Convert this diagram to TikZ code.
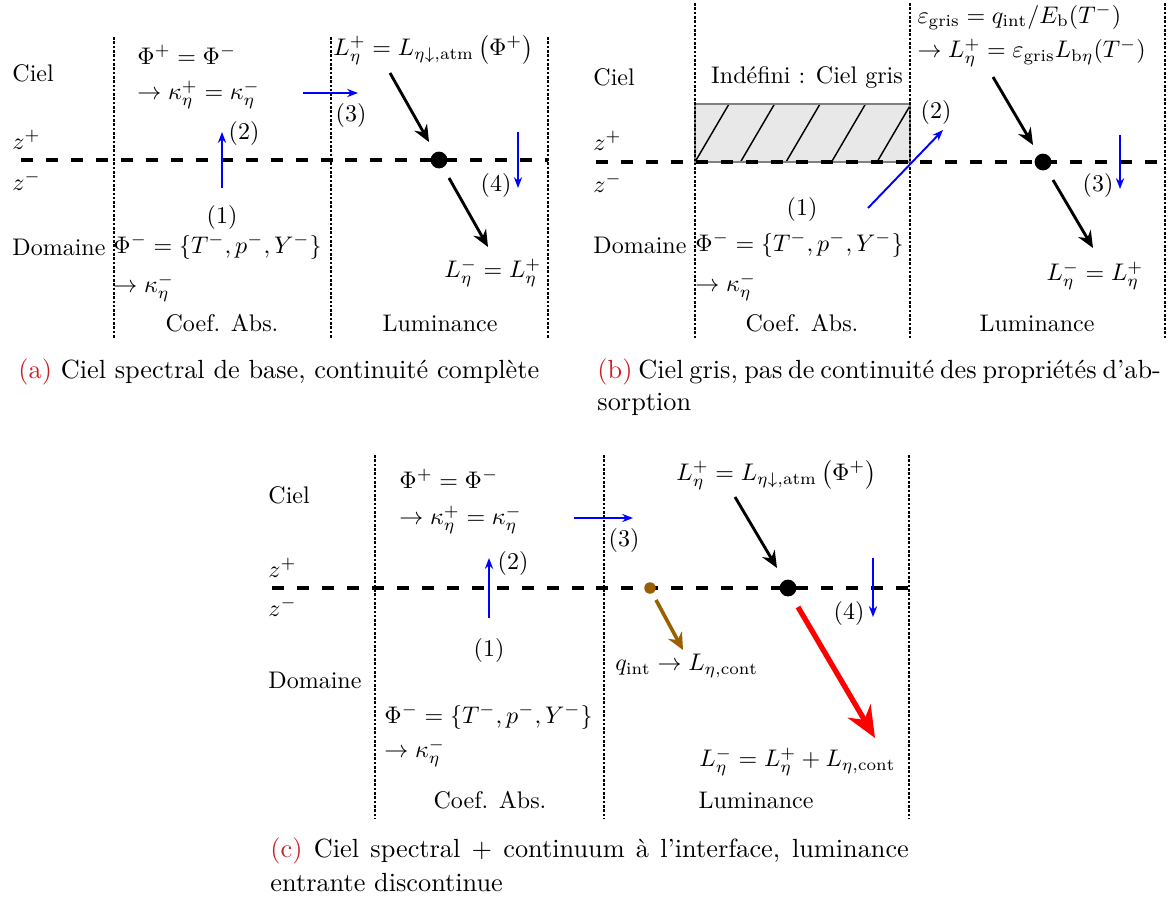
\documentclass[tikz,border=0pt]{standalone}
\usepackage{fontspec}
\usetikzlibrary{arrows.meta}
\definecolor{capred}{RGB}{204,32,40}
\definecolor{qbrown}{RGB}{153,95,0}
\tikzset{
  lbl/.style={inner sep=0pt, anchor=west},
  ctr/.style={inner sep=0pt},
  captxt/.style={inner sep=0pt, anchor=west, font=\fontsize{10.95}{13.6}\selectfont},
  vdiv/.style={line width=0.8pt, dash pattern=on 1.1pt off 0.7pt},
  iface/.style={line width=1.6pt, dash pattern=on 5pt off 5.4pt},
  blk/.style={line width=1.2pt, -{Stealth[length=7pt,width=6pt]}},
  blu/.style={blue, line width=0.8pt, -{Stealth[length=4.5pt,width=3.4pt]}},
  bigdot/.style={circle, fill=black, inner sep=0pt, minimum size=7pt},
  brdot/.style={circle, fill=qbrown, inner sep=0pt, minimum size=4.8pt},
}
\begin{document}
\begin{tikzpicture}[x=0.41667pt,y=-0.41667pt]
\useasboundingbox (0,0) rectangle (1168,899);

% ================= Panel (a) =================
\draw[vdiv] (114,37) -- (114,338);
\draw[vdiv] (331,37) -- (331,338);
\draw[vdiv] (548,37) -- (548,338);
\draw[iface] (21,160) -- (548,160);
\node[lbl] (aciel) at (12,73) {Ciel};
\node[lbl] (azp) at (12,140) {$z^+$};
\node[lbl] (azm) at (12,181) {$z^-$};
\node[lbl] (adom) at (12,247) {Domaine};
\node[lbl] (aphip) at (137,55) {$\Phi^+ = \Phi^-$};
\node[lbl] (akap) at (137,95) {$\rightarrow \kappa_\eta^+ = \kappa_\eta^-$};
\node[lbl] (aphim) at (113,247) {$\Phi^- = \{T^-, p^-, Y^-\}$};
\node[lbl] (akam) at (113,288) {$\rightarrow \kappa_\eta^-$};
\node[ctr] (acoef) at (222,323) {Coef. Abs.};
\node[ctr] (alum) at (440,323) {Luminance};
\node[lbl] (aLp) at (333,50) {$L_\eta^+ = L_{\eta\downarrow,\mathrm{atm}}\,\bigl(\Phi^+\bigr)$};
\node[lbl] (aLm) at (444,273) {$L_\eta^- = L_\eta^+$};
\node[ctr] (a1) at (222,217) {(1)};
\node[ctr] (a2) at (244,133) {(2)};
\node[ctr] (a3) at (351,115) {(3)};
\node[ctr] (a4) at (496,185) {(4)};
\node[bigdot] (adot) at (439,160) {};
\coordinate (a3s) at (303,93); \coordinate (a3e) at (358,93);
\coordinate (a2s) at (222,188); \coordinate (a2e) at (222,132);
\coordinate (a4s) at (518,132); \coordinate (a4e) at (518,188);
\coordinate (aks) at (390,73); \coordinate (ake) at (429,142);
\coordinate (als) at (449,178); \coordinate (ale) at (488,247);
\draw[blu] (a3s) -- (a3e);
\draw[blu] (a2s) -- (a2e);
\draw[blu] (a4s) -- (a4e);
\draw[blk] (aks) -- (ake);
\draw[blk] (als) -- (ale);
\node[captxt] (capa) at (18,372) {\textcolor{capred}{(a)} Ciel spectral de base, continuité complète};

% ================= Panel (b) =================
\fill[gray!18] (695,104) rectangle (910,162);
\begin{scope}
  \clip (695,104) rectangle (910,162);
  \foreach \k in {0,...,4} {
    \draw[line width=0.6pt] ({695+45.5*\k},162) -- ({729+45.5*\k},104);
  }
\end{scope}
\draw[gray, line width=0.6pt] (695,104) rectangle (910,162);
\draw[vdiv] (695,3) -- (695,338);
\draw[vdiv] (910,3) -- (910,338);
\draw[vdiv] (1165,3) -- (1165,338);
\draw[iface] (596,162) -- (1168,162);
\node[lbl] (bciel) at (593,77) {Ciel};
\node[lbl] (bzp) at (593,141) {$z^+$};
\node[lbl] (bzm) at (593,183) {$z^-$};
\node[lbl] (bdom) at (593,245) {Domaine};
\node[ctr] (bind) at (807,78) {Indéfini : Ciel gris};
\node[lbl] (bphim) at (695,245) {$\Phi^- = \{T^-, p^-, Y^-\}$};
\node[lbl] (bkam) at (695,287) {$\rightarrow \kappa_\eta^-$};
\node[ctr] (bcoef) at (802,323) {Coef. Abs.};
\node[ctr] (blum) at (1037,323) {Luminance};
\node[lbl] (beps) at (917,17) {$\varepsilon_{\mathrm{gris}} = q_{\mathrm{int}}/E_{\mathrm{b}}(T^-)$};
\node[lbl] (bLp) at (917,53) {$\rightarrow L_\eta^+ = \varepsilon_{\mathrm{gris}} L_{\mathrm{b}\eta}(T^-)$};
\node[lbl] (bLm) at (1046,276) {$L_\eta^- = L_\eta^+$};
\node[ctr] (b1) at (802,209) {(1)};
\node[ctr] (b2) at (936,112) {(2)};
\node[ctr] (b3) at (1098,185) {(3)};
\node[bigdot] (bdot) at (1043,162) {};
\coordinate (b12s) at (868,208); \coordinate (b12e) at (943,130);
\coordinate (b3s) at (1120,135); \coordinate (b3e) at (1120,189);
\coordinate (bks) at (993,77); \coordinate (bke) at (1033,145);
\coordinate (bls) at (1053,180); \coordinate (ble) at (1093,248);
\draw[blu] (b12s) -- (b12e);
\draw[blu] (b3s) -- (b3e);
\draw[blk] (bks) -- (bke);
\draw[blk] (bls) -- (ble);
\node[captxt] (capb) at (597,372) {\makebox[233pt][s]{\textcolor{capred}{(b)} Ciel gris, pas de continuité des propriétés d'ab-}};
\node[captxt] (capb2) at (597,404) {sorption};

% ================= Panel (c) =================
\draw[vdiv] (375,455) -- (375,818);
\draw[vdiv] (604,455) -- (604,818);
\draw[vdiv] (909,455) -- (909,818);
\draw[iface] (272,588) -- (909,588);
\node[lbl] (cciel) at (268,495) {Ciel};
\node[lbl] (czp) at (268,568) {$z^+$};
\node[lbl] (czm) at (268,607) {$z^-$};
\node[lbl] (cdom) at (268,680) {Domaine};
\node[lbl] (cphip) at (399,479) {$\Phi^+ = \Phi^-$};
\node[lbl] (ckap) at (399,520) {$\rightarrow \kappa_\eta^+ = \kappa_\eta^-$};
\node[lbl] (cphim) at (384,717) {$\Phi^- = \{T^-, p^-, Y^-\}$};
\node[lbl] (ckam) at (384,753) {$\rightarrow \kappa_\eta^-$};
\node[ctr] (ccoef) at (490,800) {Coef. Abs.};
\node[ctr] (clum) at (756,800) {Luminance};
\node[lbl] (cLp) at (676,475) {$L_\eta^+ = L_{\eta\downarrow,\mathrm{atm}}\,\bigl(\Phi^+\bigr)$};
\node[lbl] (cq) at (615,666) {$q_{\mathrm{int}} \rightarrow L_{\eta,\mathrm{cont}}$};
\node[lbl] (cLm) at (699,762) {$L_\eta^- = L_\eta^+ + L_{\eta,\mathrm{cont}}$};
\node[ctr] (c1) at (489,650) {(1)};
\node[ctr] (c2) at (513,563) {(2)};
\node[ctr] (c3) at (624,540) {(3)};
\node[ctr] (c4) at (849,613) {(4)};
\node[bigdot] (cdot) at (788,588) {};
\node[brdot] (cbdot) at (650,588) {};
\coordinate (c3s) at (574,518); \coordinate (c3e) at (633,518);
\coordinate (c2s) at (489,618); \coordinate (c2e) at (489,558);
\coordinate (c4s) at (873,558); \coordinate (c4e) at (873,617);
\coordinate (cks) at (735,497); \coordinate (cke) at (777,568);
\coordinate (cbs) at (656,600); \coordinate (cbe) at (683,650);
\coordinate (crs) at (798,607); \coordinate (cre) at (875,738);
\draw[blu] (c3s) -- (c3e);
\draw[blu] (c2s) -- (c2e);
\draw[blu] (c4s) -- (c4e);
\draw[blk] (cks) -- (cke);
\draw[qbrown, line width=1.5pt, -{Stealth[length=7pt,width=6.5pt]}] (cbs) -- (cbe);
\draw[red, line width=2.2pt, -{Stealth[length=13pt,width=11pt]}] (crs) -- (cre);
\node[captxt] (capc) at (270,851) {\makebox[266pt][s]{\textcolor{capred}{(c)} Ciel spectral + continuum à l'interface, luminance}};
\node[captxt] (capc2) at (270,883) {entrante discontinue};
\end{tikzpicture}
\end{document}
